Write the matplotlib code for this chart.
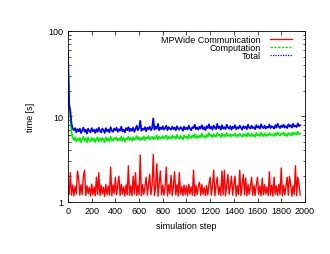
import matplotlib

matplotlib.use("Agg")
import matplotlib.pyplot as plt
from matplotlib.lines import Line2D
import numpy as np

# simulation steps, one sample every 10 steps
steps = np.arange(0, 1961, 10)

communication = [
    1.50, 1.22, 2.20, 1.20, 1.58, 1.18, 1.52, 1.24, 2.30, 1.90,
    1.20, 1.60, 1.22, 2.00, 2.35, 1.19, 1.55, 1.25, 1.48, 1.17,
    1.62, 1.21, 1.50, 1.18, 1.95, 1.23, 2.20, 1.19, 1.57, 1.24,
    1.49, 1.16, 1.60, 1.22, 1.53, 1.20, 2.55, 1.18, 1.58, 1.25,
    1.95, 1.21, 1.55, 2.00, 1.19, 1.61, 1.23, 1.50, 1.17, 1.59,
    1.22, 2.65, 1.20, 1.54, 1.18, 2.00, 1.24, 2.20, 1.19, 1.56,
    1.21, 3.55, 1.18, 1.60, 1.23, 1.51, 1.95, 1.20, 1.58, 2.10,
    1.22, 1.55, 3.60, 1.19, 1.49, 2.80, 1.17, 1.62, 2.30, 1.21,
    1.57, 1.20, 1.52, 2.55, 1.18, 1.59, 1.24, 2.05, 1.19, 1.54,
    2.25, 1.21, 1.60, 1.17, 2.20, 1.23, 1.51, 1.19, 1.58, 1.22,
    1.55, 1.18, 1.61, 1.24, 1.50, 1.20, 2.35, 1.17, 1.57, 1.22,
    1.53, 1.70, 1.19, 1.60, 1.23, 1.48, 1.18, 1.56, 1.21, 1.62,
    1.95, 1.20, 1.54, 2.35, 1.18, 1.59, 1.95, 1.22, 1.51, 1.19,
    2.30, 1.21, 2.35, 1.18, 1.57, 2.10, 1.23, 1.52, 2.00, 1.20,
    1.60, 2.00, 1.17, 1.55, 1.22, 2.35, 1.19, 1.58, 2.10, 1.21,
    1.90, 1.18, 1.61, 1.23, 1.50, 1.95, 1.20, 1.56, 1.19, 1.59,
    1.95, 1.22, 1.53, 1.18, 1.90, 1.21, 1.60, 1.24, 1.49, 1.19,
    2.25, 1.20, 1.57, 1.17, 1.95, 1.23, 1.54, 1.19, 1.61, 1.22,
    2.50, 1.18, 1.56, 1.21, 1.52, 1.95, 1.20, 2.00, 1.59, 1.17,
    1.55, 1.22, 2.65, 1.19, 1.95, 1.58, 1.21,
]

computation = [
    45.0, 12.5, 9.5, 6.5, 5.6, 5.3, 5.7, 5.1, 5.5, 5.2,
    5.6, 5.0, 5.4, 5.8, 5.2, 5.5, 5.0, 5.7, 5.3, 5.1,
    5.6, 5.2, 5.5, 5.0, 5.4, 5.7, 5.1, 5.5, 5.2, 5.6,
    5.3, 5.0, 5.7, 5.2, 5.5, 5.1, 5.8, 5.3, 5.2, 5.6,
    5.4, 5.7, 5.2, 5.5, 5.3, 5.8, 5.2, 5.6, 5.1, 5.5,
    5.4, 5.8, 5.3, 5.6, 5.2, 5.7, 5.3, 5.5, 5.9, 5.4,
    5.7, 5.3, 5.6, 5.4, 5.8, 5.3, 5.7, 5.5, 5.9, 5.4,
    5.6, 5.8, 5.4, 5.7, 5.5, 6.0, 5.4, 5.8, 5.6, 5.5,
    5.9, 5.5, 5.7, 6.0, 5.4, 5.8, 5.6, 5.5, 6.0, 5.6,
    5.8, 5.5, 6.1, 5.7, 5.5, 5.9, 5.6, 5.4, 6.0, 5.7,
    5.8, 5.5, 6.1, 5.7, 5.6, 6.0, 5.7, 6.2, 5.6, 5.9,
    5.6, 6.0, 5.7, 6.3, 5.8, 5.9, 5.6, 6.1, 5.8, 6.4,
    5.9, 6.1, 5.7, 6.2, 5.9, 5.8, 6.4, 6.0, 6.1, 5.7,
    6.3, 5.9, 6.1, 5.8, 6.4, 6.0, 5.9, 6.2, 5.8, 6.1,
    6.0, 6.3, 5.8, 6.1, 5.9, 6.3, 6.0, 5.8, 6.2, 5.9,
    6.2, 5.8, 6.4, 6.0, 5.9, 6.3, 5.9, 6.1, 5.8, 6.4,
    6.0, 6.2, 5.9, 6.5, 6.1, 5.9, 6.3, 5.9, 6.2, 6.0,
    6.4, 6.0, 6.2, 6.1, 5.9, 6.4, 6.0, 6.5, 6.2, 6.0,
    6.3, 6.1, 6.5, 6.0, 6.2, 5.9, 6.4, 6.1, 6.3, 6.0,
    6.5, 6.2, 6.4, 6.1, 6.6, 6.2, 6.3,
]

total = [
    55.0, 14.0, 11.5, 8.2, 7.2, 6.9, 7.3, 6.5, 7.1, 6.7,
    7.2, 6.4, 6.9, 7.4, 6.6, 7.0, 6.3, 7.2, 6.8, 6.5,
    7.3, 6.7, 7.0, 6.4, 7.1, 6.6, 7.4, 6.8, 6.5, 7.2,
    6.9, 6.4, 7.3, 6.7, 7.0, 6.5, 7.5, 6.8, 6.6, 7.2,
    6.9, 7.4, 6.6, 7.1, 6.8, 7.6, 6.7, 7.0, 6.5, 7.3,
    6.9, 7.5, 6.7, 7.2, 6.8, 7.4, 6.6, 7.1, 7.8, 6.9,
    7.3, 8.9, 6.8, 7.2, 7.0, 7.5, 6.7, 7.4, 7.1, 7.6,
    6.9, 7.3, 9.5, 7.0, 7.6, 7.2, 8.2, 6.9, 7.4, 7.1,
    7.7, 7.0, 7.3, 7.8, 6.9, 7.5, 7.2, 7.0, 7.6, 7.1,
    7.4, 6.9, 7.7, 7.2, 7.0, 7.5, 7.3, 6.8, 7.6, 7.1,
    7.4, 7.0, 7.8, 7.2, 6.9, 7.5, 7.3, 8.0, 7.1, 7.4,
    7.0, 7.6, 7.2, 7.9, 7.1, 7.5, 6.9, 7.7, 7.3, 8.1,
    7.2, 7.6, 7.0, 7.8, 7.4, 7.1, 8.2, 7.3, 7.6, 7.0,
    7.9, 7.2, 7.5, 7.1, 8.0, 7.4, 7.2, 7.7, 7.0, 7.6,
    7.3, 7.9, 7.1, 7.5, 7.2, 7.8, 7.4, 7.0, 7.7, 7.3,
    7.6, 7.1, 8.0, 7.4, 7.2, 7.8, 7.3, 7.5, 7.1, 7.9,
    7.4, 7.7, 7.2, 8.1, 7.5, 7.3, 7.8, 7.2, 7.6, 7.4,
    8.0, 7.3, 7.7, 7.5, 7.2, 7.9, 7.4, 8.2, 7.6, 7.3,
    7.8, 7.5, 8.0, 7.4, 7.7, 7.3, 8.1, 7.6, 7.9, 7.4,
    8.2, 7.6, 7.8, 7.5, 8.3, 7.7, 7.9,
]

labels = ["MPWide Communication", "Computation", "Total"]
colors = ["#ff0000", "#00ee00", "#0000ff"]
styles = ["-", (0, (2, 1)), (0, (1, 1))]
xticks = np.arange(0, 2001, 200)

plt.rcParams["font.family"] = ["Liberation Sans", "DejaVu Sans"]

fig = plt.figure(figsize=(3.3, 2.55), dpi=100)
ax = fig.add_axes([0.206, 0.204, 0.718, 0.671])

# dense series look like solid bands in the original, so draw them solid
for series, c, w in zip([communication, computation, total], colors, [1.0, 1.25, 1.25]):
    ax.plot(steps, series, color=c, lw=w)

ax.set_yscale("log")
ax.set_ylim(1, 100)
ax.set_xlim(0, 2000)
ax.set_xticks(xticks)
ax.set_yticks([1, 10, 100])
ax.set_yticklabels(["1", "10", "100"])
ax.tick_params(axis="both", which="both", direction="in", top=True, right=True,
               labelsize=6.5, width=0.5, pad=3)
ax.tick_params(which="major", length=3)
ax.tick_params(which="minor", length=1.8)
for s in ax.spines.values():
    s.set_linewidth(0.6)

ax.set_xlabel("simulation step", fontsize=6.5, labelpad=4)
ax.set_ylabel("time [s]", fontsize=6.5, labelpad=10)

handles = [Line2D([], [], color=c, lw=0.9, ls=ls) for c, ls in zip(colors, styles)]
ax.legend(handles, labels, loc="upper right", bbox_to_anchor=(0.955, 0.985),
          frameon=False, fontsize=6.5, markerfirst=False,
          handlelength=2.5, handletextpad=1.0, labelspacing=-0.12,
          borderaxespad=0, borderpad=0.2)

plt.savefig("out.png", dpi=100, facecolor="white")
plt.close()
